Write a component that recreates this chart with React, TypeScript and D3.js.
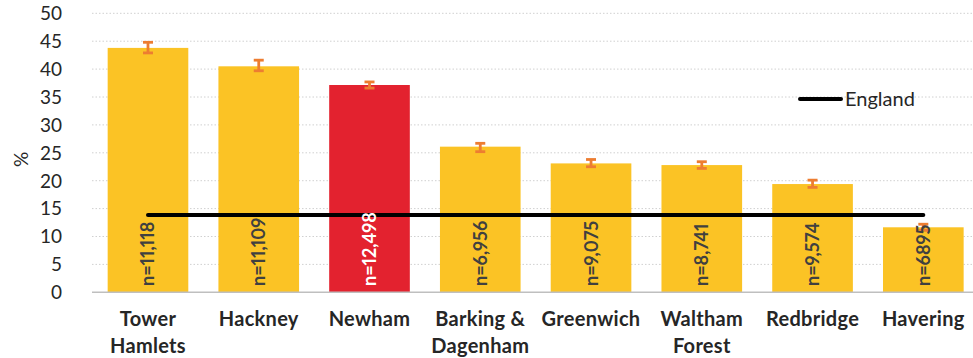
import React from "react";
import * as d3 from "d3";

const categories: string[][] = [
  ["Tower", "Hamlets"],
  ["Hackney"],
  ["Newham"],
  ["Barking &", "Dagenham"],
  ["Greenwich"],
  ["Waltham", "Forest"],
  ["Redbridge"],
  ["Havering"],
];
const values = [43.8, 40.5, 37.15, 26.1, 23.1, 22.8, 19.4, 11.65];
const errLow = [42.9, 39.7, 36.6, 25.2, 22.5, 22.2, 18.8, 11.1];
const errHigh = [44.8, 41.6, 37.7, 26.7, 23.8, 23.4, 20.1, 12.2];
const nLabels = ["n=11,118", "n=11,109", "n=12,498", "n=6,956", "n=9,075", "n=8,741", "n=9,574", "n=6895"];
const highlight = [false, false, true, false, false, false, false, false];
const englandValue = 13.85;
const yTicks = [0, 5, 10, 15, 20, 25, 30, 35, 40, 45, 50];

const W = 973;
const H = 358;
const FONT = "Lato, 'Open Sans', sans-serif";

export default function App() {
  const x = d3
    .scaleBand<number>()
    .domain(values.map((_, i) => i))
    .range([92.6, 978.7])
    .paddingInner(0.272)
    .paddingOuter(0.136);
  const y = d3.scaleLinear().domain([0, 50]).range([292.3, 13.3]);
  const bw = x.bandwidth();
  const cx = (i: number) => (x(i) as number) + bw / 2;

  const englandLine = d3
    .line<number>()
    .x((i) => cx(i))
    .y(() => y(englandValue));

  return (
    <svg
      width={W}
      height={H}
      style={{ position: "absolute", left: 0, top: 0, background: "#fff" }}
      fontFamily={FONT}
    >
      {/* gridlines */}
      {yTicks.slice(1).map((t) => (
        <line
          key={t}
          x1={92}
          x2={W}
          y1={y(t)}
          y2={y(t)}
          stroke="#d0d0d0"
          strokeWidth={1}
          strokeDasharray="1.5 2"
        />
      ))}
      {/* y tick labels */}
      {yTicks.map((t) => (
        <text
          key={t}
          x={62}
          y={y(t)}
          dy="0.36em"
          textAnchor="end"
          fontSize={19}
          fill="#262626"
        >
          {t}
        </text>
      ))}
      <text
        transform={`translate(28,${y(23.8)}) rotate(-90)`}
        textAnchor="middle"
        fontSize={19}
        fill="#262626"
      >
        %
      </text>
      {/* bars */}
      {values.map((v, i) => (
        <rect
          key={i}
          x={x(i)}
          y={y(v)}
          width={bw}
          height={y(0) - y(v)}
          fill={highlight[i] ? "#e3222f" : "#fbc325"}
        />
      ))}
      {/* baseline */}
      <line x1={92} x2={W} y1={y(0)} y2={y(0)} stroke="#bfbfbf" strokeWidth={1.5} />
      {/* error bars */}
      {values.map((_, i) => (
        <g key={i} stroke="#ed7d31" strokeWidth={2.8}>
          <line x1={cx(i)} x2={cx(i)} y1={y(errLow[i])} y2={y(errHigh[i])} />
          <line x1={cx(i) - 5} x2={cx(i) + 5} y1={y(errLow[i])} y2={y(errLow[i])} />
          <line x1={cx(i) - 5} x2={cx(i) + 5} y1={y(errHigh[i])} y2={y(errHigh[i])} />
        </g>
      ))}
      {/* England line */}
      <path
        d={englandLine(values.map((_, i) => i)) || ""}
        stroke="#000"
        strokeWidth={4}
        fill="none"
        strokeLinecap="round"
      />
      {/* n labels */}
      {values.map((_, i) => (
        <text
          key={i}
          transform={`translate(${cx(i)},${286}) rotate(-90)`}
          dy="0.36em"
          textAnchor="start"
          fontSize={18}
          fontWeight="bold"
          style={{ fontVariantNumeric: "proportional-nums" }}
          fill={highlight[i] ? "#ffffff" : "#404040"}
        >
          {nLabels[i]}
        </text>
      ))}
      {/* category labels */}
      {categories.map((lines, i) => (
        <text
          key={i}
          x={cx(i)}
          textAnchor="middle"
          fontSize={20}
          fontWeight="bold"
          letterSpacing={0.3}
          fill="#262626"
        >
          {lines.map((l, j) => (
            <tspan key={j} x={cx(i)} y={326 + j * 27}>
              {l}
            </tspan>
          ))}
        </text>
      ))}
      {/* legend */}
      <line x1={800} x2={841} y1={99} y2={99} stroke="#000" strokeWidth={4} strokeLinecap="round" />
      <text x={845} y={99} dy="0.36em" fontSize={20} fill="#262626">
        England
      </text>
    </svg>
  );
}
